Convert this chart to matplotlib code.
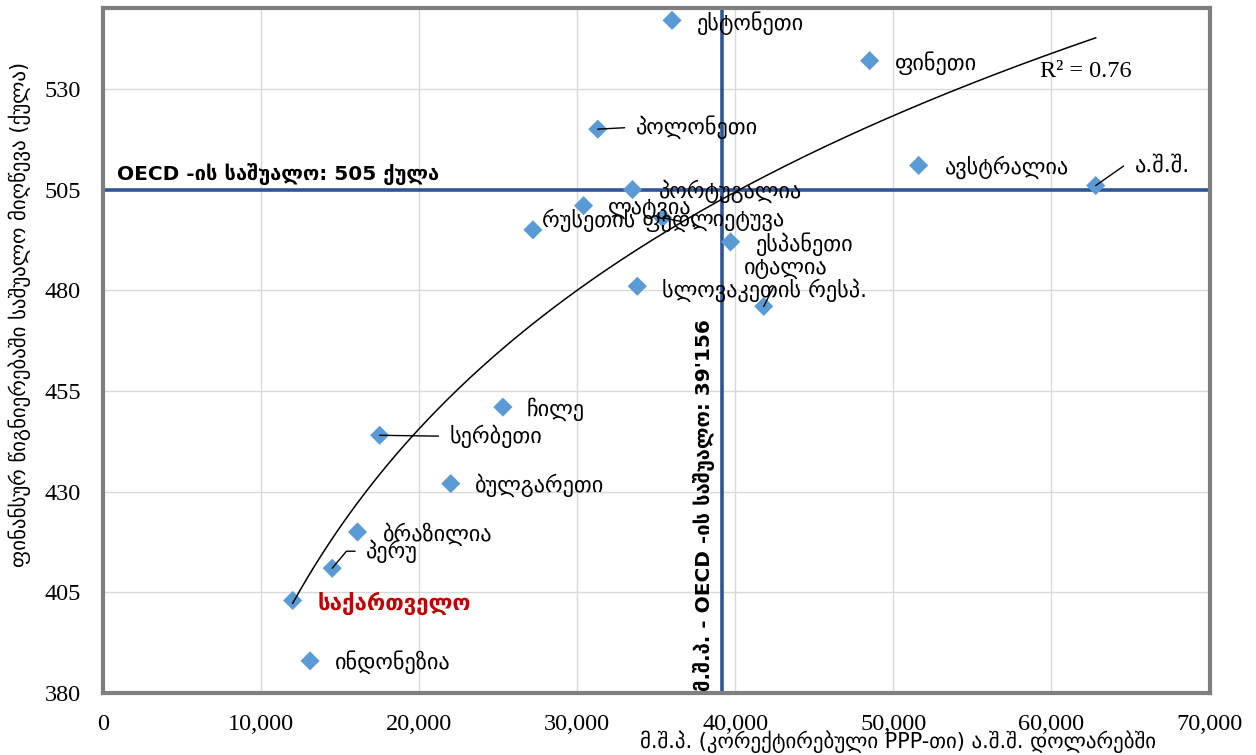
import numpy as np
import matplotlib
matplotlib.use("Agg")
import matplotlib.pyplot as plt
from matplotlib.ticker import FuncFormatter, MultipleLocator

# GDP per capita (PPP, USD) vs. mean financial literacy score
countries = ["ესტონეთი", "ფინეთი", "პოლონეთი", "ავსტრალია", "ა.შ.შ.",
             "პორტუგალია", "ლატვია", "ლიეტუვა", "რუსეთის ფედ.", "ესპანეთი",
             "სლოვაკეთის რესპ.", "იტალია", "ჩილე", "სერბეთი", "ბულგარეთი",
             "ბრაზილია", "პერუ", "საქართველო", "ინდონეზია"]
gdp = [36000, 48500, 31300, 51600, 62800,
       33500, 30400, 35400, 27200, 39700,
       33800, 41800, 25300, 17500, 22000,
       16100, 14500, 12000, 13100]
score = [547, 537, 520, 511, 506,
         505, 501, 498, 495, 492,
         481, 476, 451, 444, 432,
         420, 411, 403, 388]

OECD_SCORE = 505
OECD_GDP = 39156

GEO = ["DejaVu Sans"]
SERIF = ["Liberation Serif", "DejaVu Serif"]
BLUE_LINE = "#2F5597"
MARKER = "#5B9BD5"

# label offsets in pixels (dx, dy up); leader = connection style or None
LABELS = {
    "ესტონეთი": (25, -3, None),
    "ფინეთი": (25, -3, None),
    "პოლონეთი": (38, 2, "straight"),
    "ავსტრალია": (26, -2, None),
    "ა.შ.შ.": (39, 20, "angle,angleA=0,angleB=35,rad=0"),
    "პორტუგალია": (26, -2, None),
    "ლატვია": (24, -3, None),
    "ლიეტუვა": (27, -3, "below"),
    "რუსეთის ფედ.": (9, 10, None),
    "ესპანეთი": (25, -2, None),
    "სლოვაკეთის რესპ.": (25, -4, None),
    "იტალია": (-20, 37, "below"),
    "ჩილე": (24, -2, None),
    "სერბეთი": (70, -1, "straight"),
    "ბულგარეთი": (24, -2, None),
    "ბრაზილია": (25, -2, None),
    "პერუ": (34, 17, "angle,angleA=0,angleB=50,rad=0"),
    "საქართველო": (25, -3, None),
    "ინდონეზია": (25, -1, None),
}


def main():
    fig = plt.figure(figsize=(12.56, 7.55), dpi=100)
    ax = fig.add_axes([0.082, 0.082, 0.881, 0.907])

    ax.set_xlim(0, 70000)
    ax.set_ylim(380, 550)
    ax.xaxis.set_major_locator(MultipleLocator(10000))
    ax.set_yticks([380, 405, 430, 455, 480, 505, 530])
    ax.xaxis.set_major_formatter(FuncFormatter(lambda v, p: f"{int(v):,}"))
    ax.grid(True, color="#d9d9d9", lw=1.0, zorder=0)
    ax.set_axisbelow(True)
    for s in ax.spines.values():
        s.set_color("#7f7f7f")
        s.set_linewidth(3)
    ax.tick_params(length=0, labelsize=17.5)
    ax.tick_params(axis="x", pad=15)
    ax.tick_params(axis="y", pad=16)
    for lab in ax.get_xticklabels() + ax.get_yticklabels():
        lab.set_family(SERIF)

    # OECD averages
    ax.axhline(OECD_SCORE, color=BLUE_LINE, lw=2.6, zorder=2)
    ax.axvline(OECD_GDP, color=BLUE_LINE, lw=2.6, zorder=2)
    ax.text(900, OECD_SCORE + 1.2, "OECD -ის საშუალო: 505 ქულა",
            family=GEO, fontsize=14.5, fontweight="bold", va="bottom", ha="left")
    ax.text(OECD_GDP - 450, 380.5, "მ.შ.პ. - OECD -ის საშუალო: 39'156",
            family=GEO, fontsize=14.5, fontweight="bold", rotation=90,
            va="bottom", ha="right")

    ax.scatter(gdp, score, marker="D", s=95, color=MARKER, zorder=3,
               edgecolors="none")

    # logarithmic trend line
    x = np.array(gdp, dtype=float)
    y = np.array(score, dtype=float)
    a, b = np.polyfit(np.log(x), y, 1)
    xs = np.linspace(x.min(), x.max(), 200)
    ax.plot(xs, a * np.log(xs) + b, color="black", lw=1.1, zorder=4)
    ax.text(59300, 534.2, "R² = 0.76", family=SERIF, fontsize=17.5,
            ha="left", va="center")

    for name, gx, sc in zip(countries, gdp, score):
        dx, dy, leader = LABELS[name]
        is_geo = name == "საქართველო"
        kw = {}
        if leader == "straight":
            kw["arrowprops"] = dict(arrowstyle="-", color="black", lw=1.0,
                                    relpos=(0, 0.5), shrinkA=6, shrinkB=0)
        elif leader == "below":
            kw["arrowprops"] = dict(arrowstyle="-", color="black", lw=1.0,
                                    relpos=(0.4, 0.0), shrinkA=4, shrinkB=0)
        elif leader:
            kw["arrowprops"] = dict(arrowstyle="-", color="black", lw=1.0,
                                    relpos=(0, 0.5), shrinkA=6, shrinkB=0,
                                    connectionstyle=leader)
        ax.annotate(name, xy=(gx, sc), xytext=(dx, dy),
                    textcoords="offset pixels", ha="left", va="center",
                    family=GEO, fontsize=16,
                    color="#C00000" if is_geo else "black",
                    fontweight="bold" if is_geo else "normal",
                    zorder=5, **kw)

    fig.text(0.016, 0.583, "ფინანსურ წიგნიერებაში საშუალო მიღწევა (ქულა)",
             family=GEO, fontsize=15, rotation=90, ha="center", va="center")
    fig.text(0.715, 0.017, "მ.შ.პ. (კორექტირებული PPP-თი) ა.შ.შ. დოლარებში",
             family=GEO, fontsize=15, ha="center", va="center")

    fig.savefig("out.png", dpi=100)


if __name__ == "__main__":
    main()
